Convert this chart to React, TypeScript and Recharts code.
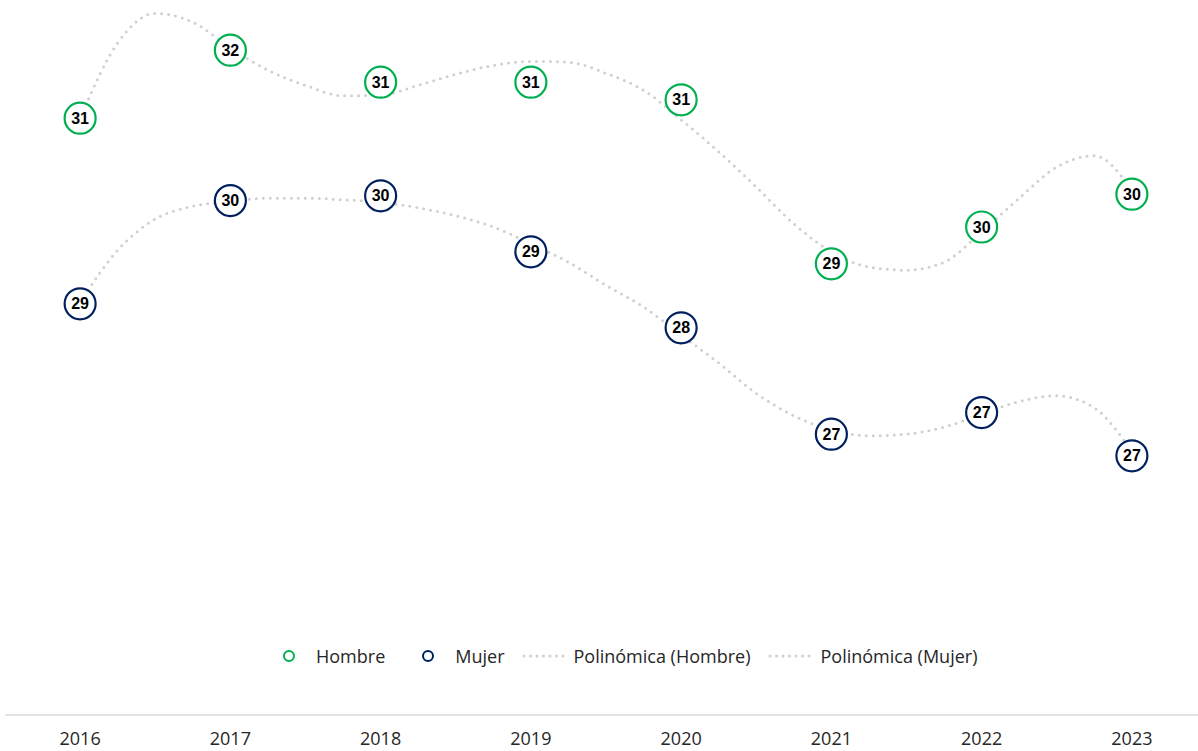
import React from 'react';
import { ComposedChart, Scatter, Line, XAxis, YAxis, LabelList, Legend } from 'recharts';

const years = [2016, 2017, 2018, 2019, 2020, 2021, 2022, 2023];
const hombre = [30.96, 31.81, 31.41, 31.41, 31.19, 29.14, 29.6, 30.01];
const mujer = [28.64, 29.93, 29.99, 29.29, 28.34, 27.01, 27.28, 26.74];

// polynomial trend, read every quarter year
const trendYears = [
  2016, 2016.25, 2016.5, 2016.75, 2017, 2017.25, 2017.5, 2017.75,
  2018, 2018.25, 2018.5, 2018.75, 2019, 2019.25, 2019.5, 2019.75,
  2020, 2020.25, 2020.5, 2020.75, 2021, 2021.25, 2021.5, 2021.75,
  2022, 2022.25, 2022.5, 2022.75, 2023,
];
const hombreTrend = [
  30.96, 31.9, 32.27, 32.16, 31.84, 31.56, 31.37, 31.24,
  31.25, 31.37, 31.51, 31.62, 31.67, 31.66, 31.52, 31.31,
  30.94, 30.54, 30.1, 29.64, 29.29, 29.1, 29.06, 29.16,
  29.54, 29.96, 30.35, 30.49, 30.06,
];
const mujerTrend = [
  28.66, 29.31, 29.7, 29.86, 29.92, 29.96, 29.96, 29.94,
  29.91, 29.84, 29.74, 29.6, 29.39, 29.16, 28.87, 28.6,
  28.25, 27.9, 27.52, 27.24, 27.06, 26.99, 27.01, 27.1,
  27.26, 27.42, 27.49, 27.34, 26.79,
];

const GREEN = '#00B050';
const NAVY = '#002060';
const TREND = '#d0d0d0';
const FONT = '"Open Sans", sans-serif';

const hombreData = years.map((x, i) => ({ x, v: hombre[i] }));
const mujerData = years.map((x, i) => ({ x, v: mujer[i] }));
const trendData = trendYears.map((x, i) => ({ x, h: hombreTrend[i], m: mujerTrend[i] }));

const ring = (color: string) => (props: any) => (
  <circle cx={props.cx} cy={props.cy} r={15.5} fill="#fff" stroke={color} strokeWidth={2.2} />
);

const labelStyle = { fontFamily: '"Liberation Sans", Arial, sans-serif', fontWeight: 700, fontSize: 16, fill: '#000' };

const LegendBox = () => {
  const text = { fontFamily: FONT, fontSize: 18, color: '#262626' };
  const dots = (
    <svg width={48} height={10} style={{ marginRight: 4 }}>
      <line x1={2} y1={5} x2={46} y2={5} stroke={TREND} strokeWidth={3} strokeDasharray="0 6.5" strokeLinecap="round" />
    </svg>
  );
  const marker = (c: string) => (
    <svg width={14} height={14} style={{ marginRight: 20 }}>
      <circle cx={7} cy={7} r={5} fill="#fff" stroke={c} strokeWidth={2} />
    </svg>
  );
  return (
    <div style={{ display: 'flex', alignItems: 'center', paddingLeft: 282, ...text }}>
      {marker(GREEN)}
      <span style={{ marginRight: 36 }}>Hombre</span>
      {marker(NAVY)}
      <span style={{ marginRight: 17 }}>Mujer</span>
      {dots}
      <span style={{ marginRight: 18 }}>Polinómica (Hombre)</span>
      {dots}
      <span>Polinómica (Mujer)</span>
    </div>
  );
};

export default function App() {
  return (
    <div style={{ position: 'absolute', left: 0, top: 0, background: '#fff' }}>
      <ComposedChart width={1198} height={751} margin={{ top: 0, right: 0, bottom: 0, left: 5 }}>
        <XAxis
          dataKey="x"
          type="number"
          domain={[2015.5, 2023.44]}
          allowDataOverflow
          ticks={years}
          tickLine={false}
          tickMargin={11}
          height={36}
          axisLine={{ stroke: '#d9d9d9', strokeWidth: 1.5 }}
          tick={{ fill: '#262626', fontSize: 18, fontFamily: FONT }}
        />
        <YAxis type="number" domain={[23.5, 32.4375]} allowDataOverflow hide />
        <Scatter data={hombreData} dataKey="v" name="Hombre" shape={ring(GREEN)} isAnimationActive={false}>
          <LabelList dataKey="v" position="center" formatter={(v: any) => Math.round(Number(v))} style={labelStyle} />
        </Scatter>
        <Scatter data={mujerData} dataKey="v" name="Mujer" shape={ring(NAVY)} isAnimationActive={false}>
          <LabelList dataKey="v" position="center" formatter={(v: any) => Math.round(Number(v))} style={labelStyle} />
        </Scatter>
        <Line data={trendData} dataKey="h" type="monotone" stroke={TREND} strokeWidth={3} strokeDasharray="0 7" strokeLinecap="round" dot={false} activeDot={false} isAnimationActive={false} />
        <Line data={trendData} dataKey="m" type="monotone" stroke={TREND} strokeWidth={3} strokeDasharray="0 7" strokeLinecap="round" dot={false} activeDot={false} isAnimationActive={false} />
        <Legend
          layout="horizontal"
          verticalAlign="middle"
          align="center"
          content={() => <LegendBox />}
          wrapperStyle={{ top: 644, left: 0, width: 1198 }}
        />
      </ComposedChart>
    </div>
  );
}
